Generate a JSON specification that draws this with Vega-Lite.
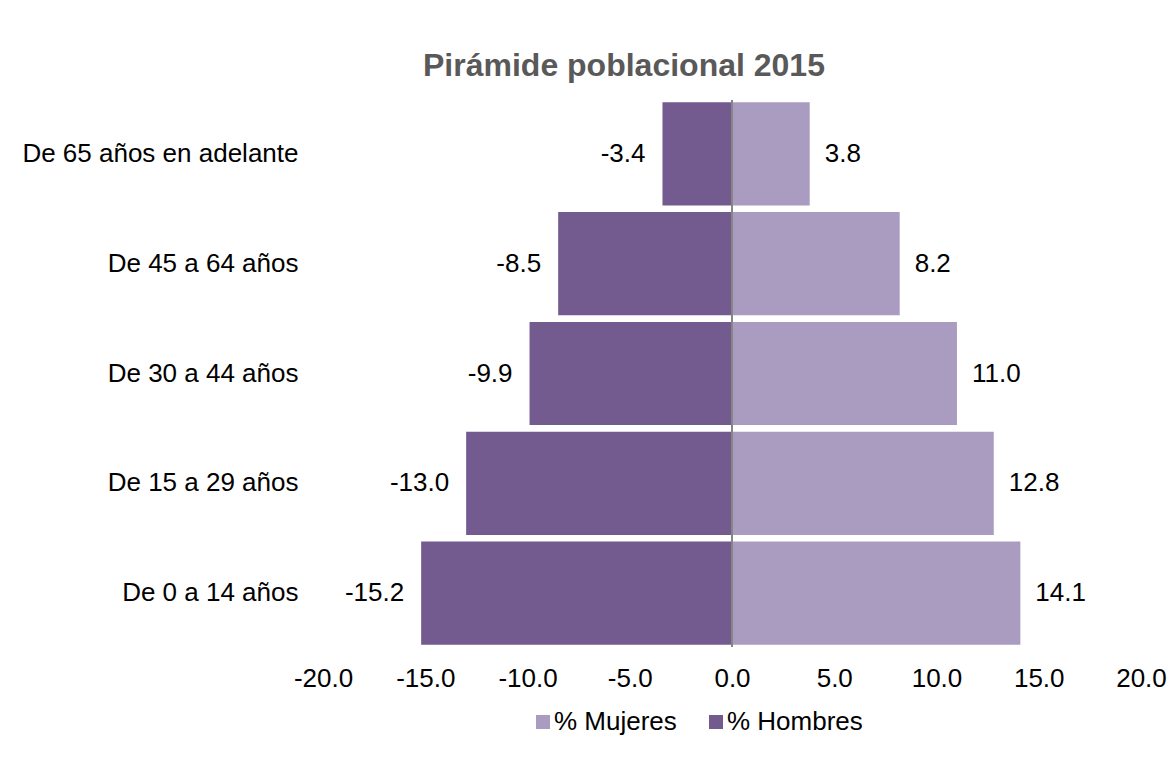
{
  "$schema": "https://vega.github.io/schema/vega-lite/v6.json",
  "width": 818,
  "height": 547,
  "autosize": {"type": "none"},
  "padding": {"left": 323, "top": 100, "right": 29, "bottom": 116},
  "background": "white",
  "config": {
    "view": {"stroke": null},
    "locale": {"number": {"decimal": ".", "thousands": ",", "grouping": [3], "currency": ["$", ""], "minus": "-"}}
  },
  "title": {
    "text": "Pirámide poblacional 2015",
    "font": "Liberation Sans",
    "fontSize": 32,
    "fontWeight": "bold",
    "color": "#595959",
    "anchor": "start",
    "frame": "group",
    "dx": 100,
    "dy": 33,
    "baseline": "alphabetic",
    "offset": 24
  },
  "data": {
    "values": [
      {"grupo": "De 65 años en adelante", "sexo": "% Hombres", "valor": -3.4},
      {"grupo": "De 45 a 64 años", "sexo": "% Hombres", "valor": -8.5},
      {"grupo": "De 30 a 44 años", "sexo": "% Hombres", "valor": -9.9},
      {"grupo": "De 15 a 29 años", "sexo": "% Hombres", "valor": -13.0},
      {"grupo": "De 0 a 14 años", "sexo": "% Hombres", "valor": -15.2},
      {"grupo": "De 65 años en adelante", "sexo": "% Mujeres", "valor": 3.8},
      {"grupo": "De 45 a 64 años", "sexo": "% Mujeres", "valor": 8.2},
      {"grupo": "De 30 a 44 años", "sexo": "% Mujeres", "valor": 11.0},
      {"grupo": "De 15 a 29 años", "sexo": "% Mujeres", "valor": 12.8},
      {"grupo": "De 0 a 14 años", "sexo": "% Mujeres", "valor": 14.1}
    ]
  },
  "encoding": {
    "y": {
      "field": "grupo",
      "type": "nominal",
      "sort": ["De 65 años en adelante", "De 45 a 64 años", "De 30 a 44 años", "De 15 a 29 años", "De 0 a 14 años"],
      "scale": {"paddingInner": 0.06, "paddingOuter": 0.02},
      "axis": {
        "title": null,
        "domain": false,
        "ticks": false,
        "tickSize": 0,
        "labelPadding": 25,
        "labelFont": "Liberation Sans",
        "labelFontSize": 26,
        "labelColor": "#000000",
        "labelLimit": 400
      }
    },
    "x": {
      "field": "valor",
      "type": "quantitative",
      "scale": {"domain": [-20, 20], "nice": false, "zero": false},
      "axis": {
        "title": null,
        "values": [-20, -15, -10, -5, 0, 5, 10, 15, 20],
        "format": ".1f",
        "domain": false,
        "ticks": false,
        "tickSize": 0,
        "grid": false,
        "labelPadding": 39,
        "labelBaseline": "alphabetic",
        "labelFont": "Liberation Sans",
        "labelFontSize": 26,
        "labelColor": "#000000",
        "labelFlush": false,
        "labelOverlap": false
      }
    }
  },
  "layer": [
    {
      "mark": {"type": "bar"},
      "encoding": {
        "color": {
          "field": "sexo",
          "type": "nominal",
          "scale": {"domain": ["% Mujeres", "% Hombres"], "range": ["#AA9BC0", "#735A8F"]},
          "legend": {
            "title": null,
            "orient": "none",
            "direction": "horizontal",
            "legendX": 207,
            "legendY": 609,
            "padding": 0,
            "symbolType": "square",
            "symbolSize": 196,
            "symbolStrokeWidth": 0,
            "labelFont": "Liberation Sans",
            "labelFontSize": 26,
            "labelColor": "#000000",
            "labelOffset": -2,
            "columnPadding": 26,
            "labelLimit": 300
          }
        }
      }
    },
    {
      "mark": {"type": "rule", "color": "#868686", "strokeWidth": 1.2},
      "encoding": {"x": {"datum": 0}, "y": null}
    },
    {
      "transform": [{"filter": "datum.sexo === '% Hombres'"}],
      "mark": {"type": "text", "align": "right", "baseline": "middle", "dx": -17, "font": "Liberation Sans", "fontSize": 26, "color": "#000000"},
      "encoding": {"text": {"field": "valor", "type": "quantitative", "format": ".1f"}}
    },
    {
      "transform": [{"filter": "datum.sexo === '% Mujeres'"}],
      "mark": {"type": "text", "align": "left", "baseline": "middle", "dx": 15, "font": "Liberation Sans", "fontSize": 26, "color": "#000000"},
      "encoding": {"text": {"field": "valor", "type": "quantitative", "format": ".1f"}}
    }
  ]
}
